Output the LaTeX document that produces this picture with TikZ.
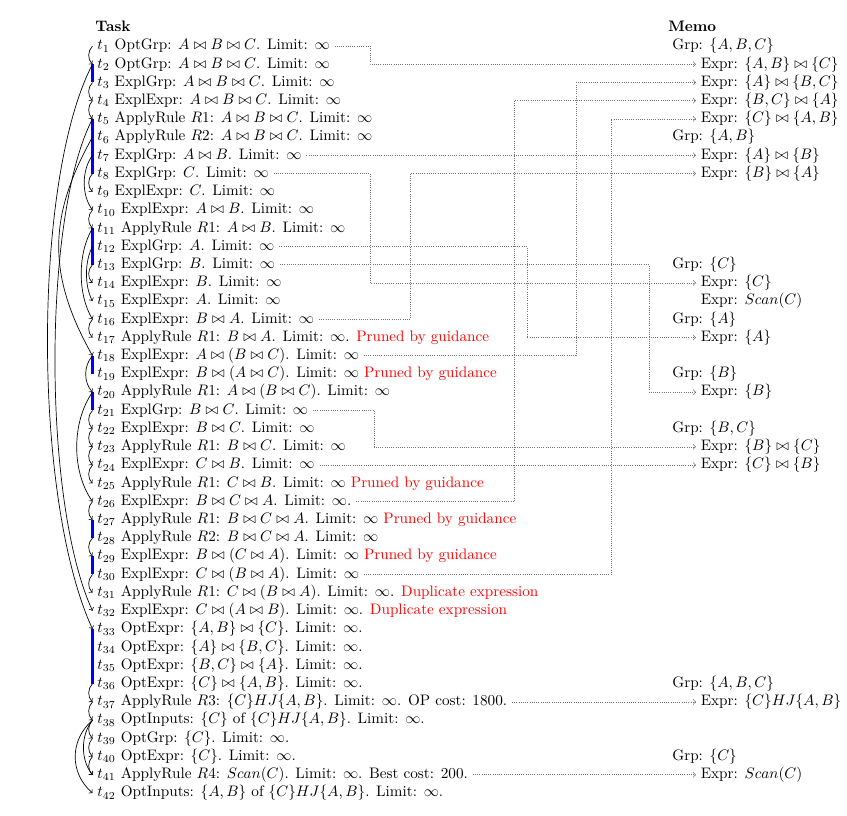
\documentclass[tikz,border=0pt]{standalone}
\usepackage{xcolor}
\newcommand\tsk[2]{\node[task] (t#1) at (92.5,{46+(#1-1)*18.22}) {$t_{#1}$ #2};}
\newcommand\mgr[2]{\node[memo] (m#1) at (667.5,{46+(#1-1)*18.22}) {Grp: #2};}
\newcommand\mex[2]{\node[memo] (m#1) at (696,{46+(#1-1)*18.22}) {Expr: #2};}
\newcommand\prn[1]{\textcolor{red}{#1}}
\newcommand\sarc[2]{\draw[arc] (t#1.west) .. controls +(-5,5) and +(-5,-5) .. (t#2.west);}
\newcommand\barc[4]{\draw[arc] (t#1.west) .. controls +(-#3,#4) and +(-#3,-#4) .. (t#2.west);}
\newcommand\infy{$\infty$}
\begin{document}
\begin{tikzpicture}[x=0.6579pt,y=-0.6579pt,
  task/.style={anchor=west,inner xsep=3pt,inner ysep=0pt,text height=7pt,text depth=2pt},
  memo/.style={anchor=west,inner xsep=3pt,inner ysep=0pt,text height=7pt,text depth=2pt},
  hd/.style={anchor=west,inner sep=0pt,font=\bfseries,text height=7pt,text depth=2pt},
  arc/.style={->,line width=0.45pt},
  grp/.style={blue,line width=1.6pt},
  link/.style={->,densely dotted,black!55,line width=0.45pt}]
\useasboundingbox (0,0) rectangle (847,816);
\node[hd] (task) at (95,27.8) {Task};
\node[hd] (memo) at (668,27.8) {Memo};
% tasks
\tsk{1}{OptGrp: $A\bowtie B\bowtie C$. Limit: \infy}
\tsk{2}{OptGrp: $A\bowtie B\bowtie C$. Limit: \infy}
\tsk{3}{ExplGrp: $A\bowtie B\bowtie C$. Limit: \infy}
\tsk{4}{ExplExpr: $A\bowtie B\bowtie C$. Limit: \infy}
\tsk{5}{ApplyRule $R1$: $A\bowtie B\bowtie C$. Limit: \infy}
\tsk{6}{ApplyRule $R2$: $A\bowtie B\bowtie C$. Limit: \infy}
\tsk{7}{ExplGrp: $A\bowtie B$. Limit: \infy}
\tsk{8}{ExplGrp: $C$. Limit: \infy}
\tsk{9}{ExplExpr: $C$. Limit: \infy}
\tsk{10}{ExplExpr: $A\bowtie B$. Limit: \infy}
\tsk{11}{ApplyRule $R1$: $A\bowtie B$. Limit: \infy}
\tsk{12}{ExplGrp: $A$. Limit: \infy}
\tsk{13}{ExplGrp: $B$. Limit: \infy}
\tsk{14}{ExplExpr: $B$. Limit: \infy}
\tsk{15}{ExplExpr: $A$. Limit: \infy}
\tsk{16}{ExplExpr: $B\bowtie A$. Limit: \infy}
\tsk{17}{ApplyRule $R1$: $B\bowtie A$. Limit: \infy. \prn{Pruned by guidance}}
\tsk{18}{ExplExpr: $A\bowtie(B\bowtie C)$. Limit: \infy}
\tsk{19}{ExplExpr: $B\bowtie(A\bowtie C)$. Limit: \infy{} \prn{Pruned by guidance}}
\tsk{20}{ApplyRule $R1$: $A\bowtie(B\bowtie C)$. Limit: \infy}
\tsk{21}{ExplGrp: $B\bowtie C$. Limit: \infy}
\tsk{22}{ExplExpr: $B\bowtie C$. Limit: \infy}
\tsk{23}{ApplyRule $R1$: $B\bowtie C$. Limit: \infy}
\tsk{24}{ExplExpr: $C\bowtie B$. Limit: \infy}
\tsk{25}{ApplyRule $R1$: $C\bowtie B$. Limit: \infy{} \prn{Pruned by guidance}}
\tsk{26}{ExplExpr: $B\bowtie C\bowtie A$. Limit: \infy.}
\tsk{27}{ApplyRule $R1$: $B\bowtie C\bowtie A$. Limit: \infy{} \prn{Pruned by guidance}}
\tsk{28}{ApplyRule $R2$: $B\bowtie C\bowtie A$. Limit: \infy}
\tsk{29}{ExplExpr: $B\bowtie(C\bowtie A)$. Limit: \infy{} \prn{Pruned by guidance}}
\tsk{30}{ExplExpr: $C\bowtie(B\bowtie A)$. Limit: \infy}
\tsk{31}{ApplyRule $R1$: $C\bowtie(B\bowtie A)$. Limit: \infy. \prn{Duplicate expression}}
\tsk{32}{ExplExpr: $C\bowtie(A\bowtie B)$. Limit: \infy. \prn{Duplicate expression}}
\tsk{33}{OptExpr: $\{A,B\}\bowtie\{C\}$. Limit: \infy.}
\tsk{34}{OptExpr: $\{A\}\bowtie\{B,C\}$. Limit: \infy.}
\tsk{35}{OptExpr: $\{B,C\}\bowtie\{A\}$. Limit: \infy.}
\tsk{36}{OptExpr: $\{C\}\bowtie\{A,B\}$. Limit: \infy.}
\tsk{37}{ApplyRule $R3$: $\{C\}HJ\{A,B\}$. Limit: \infy. OP cost: 1800.}
\tsk{38}{OptInputs: $\{C\}$ of $\{C\}HJ\{A,B\}$. Limit: \infy.}
\tsk{39}{OptGrp: $\{C\}$. Limit: \infy.}
\tsk{40}{OptExpr: $\{C\}$. Limit: \infy.}
\tsk{41}{ApplyRule $R4$: $Scan(C)$. Limit: \infy. Best cost: 200.}
\tsk{42}{OptInputs: $\{A,B\}$ of $\{C\}HJ\{A,B\}$. Limit: \infy.}
% memo
\mgr{1}{$\{A,B,C\}$}
\mex{2}{$\{A,B\}\bowtie\{C\}$}
\mex{3}{$\{A\}\bowtie\{B,C\}$}
\mex{4}{$\{B,C\}\bowtie\{A\}$}
\mex{5}{$\{C\}\bowtie\{A,B\}$}
\mgr{6}{$\{A,B\}$}
\mex{7}{$\{A\}\bowtie\{B\}$}
\mex{8}{$\{B\}\bowtie\{A\}$}
\mgr{13}{$\{C\}$}
\mex{14}{$\{C\}$}
\mex{15}{$Scan(C)$}
\mgr{16}{$\{A\}$}
\mex{17}{$\{A\}$}
\mgr{19}{$\{B\}$}
\mex{20}{$\{B\}$}
\mgr{22}{$\{B,C\}$}
\mex{23}{$\{B\}\bowtie\{C\}$}
\mex{24}{$\{C\}\bowtie\{B\}$}
\mgr{36}{$\{A,B,C\}$}
\mex{37}{$\{C\}HJ\{A,B\}$}
\mgr{40}{$\{C\}$}
\mex{41}{$Scan(C)$}
% routing columns
\coordinate (xa) at (370,0);
\coordinate (xh) at (374,0);
\coordinate (xb) at (410,0);
\coordinate (xc) at (514,0);
\coordinate (xd) at (527,0);
\coordinate (xe) at (576,0);
\coordinate (xf) at (611,0);
\coordinate (xg) at (649,0);
% dotted links
\draw[link] (t1.east) -- (t1.east -| xa) |- (m2.west);
\draw[link] (t7.east) -- (m7.west);
\draw[link] (t8.east) -- (t8.east -| xa) |- (m14.west);
\draw[link] (t12.east) -- (t12.east -| xd) |- (m17.west);
\draw[link] (t13.east) -- (t13.east -| xg) |- (m20.west);
\draw[link] (t16.east) -- (t16.east -| xb) |- (m8.west);
\draw[link] (t18.east) -- (t18.east -| xe) |- (m3.west);
\draw[link] (t21.east) -- (t21.east -| xh) |- (m23.west);
\draw[link] (t24.east) -- (m24.west);
\draw[link] (t26.east) -- (t26.east -| xc) |- (m4.west);
\draw[link] (t30.east) -- (t30.east -| xf) |- (m5.west);
\draw[link] (t37.east) -- (m37.west);
\draw[link] (t41.east) -- (m41.west);
% sibling bars
\draw[grp] (t2.west) -- (t3.west);
\draw[grp] (t5.west) -- (t8.west);
\draw[grp] (t11.west) -- (t13.west);
\draw[grp] (t18.west) -- (t19.west);
\draw[grp] (t20.west) -- (t21.west);
\draw[grp] (t27.west) -- (t28.west);
\draw[grp] (t29.west) -- (t30.west);
\draw[grp] (t33.west) -- (t36.west);
% small arcs
\sarc{1}{2}
\sarc{3}{4}
\sarc{4}{5}
\sarc{8}{9}
\sarc{10}{11}
\sarc{13}{14}
\sarc{16}{17}
\sarc{21}{22}
\sarc{22}{23}
\sarc{23}{24}
\sarc{24}{25}
\sarc{26}{27}
\sarc{28}{29}
\sarc{30}{31}
\sarc{36}{37}
\sarc{37}{38}
\sarc{38}{39}
\sarc{39}{40}
\sarc{40}{41}
% larger arcs
\barc{7}{10}{11}{15}
\barc{11}{16}{15}{25}
\barc{12}{15}{8}{15}
\barc{18}{20}{9}{10}
\barc{20}{26}{21}{30}
\barc{38}{42}{23}{20}
\barc{38}{41}{12}{15}
\barc{6}{18}{45}{80}
\draw[arc] (t5.west) .. controls +(-50,96) and +(-50,-109) .. (t32.west);
\draw[arc] (t2.west) .. controls +(-60,115) and +(-60,-131) .. (t33.west);
\end{tikzpicture}
\end{document}
